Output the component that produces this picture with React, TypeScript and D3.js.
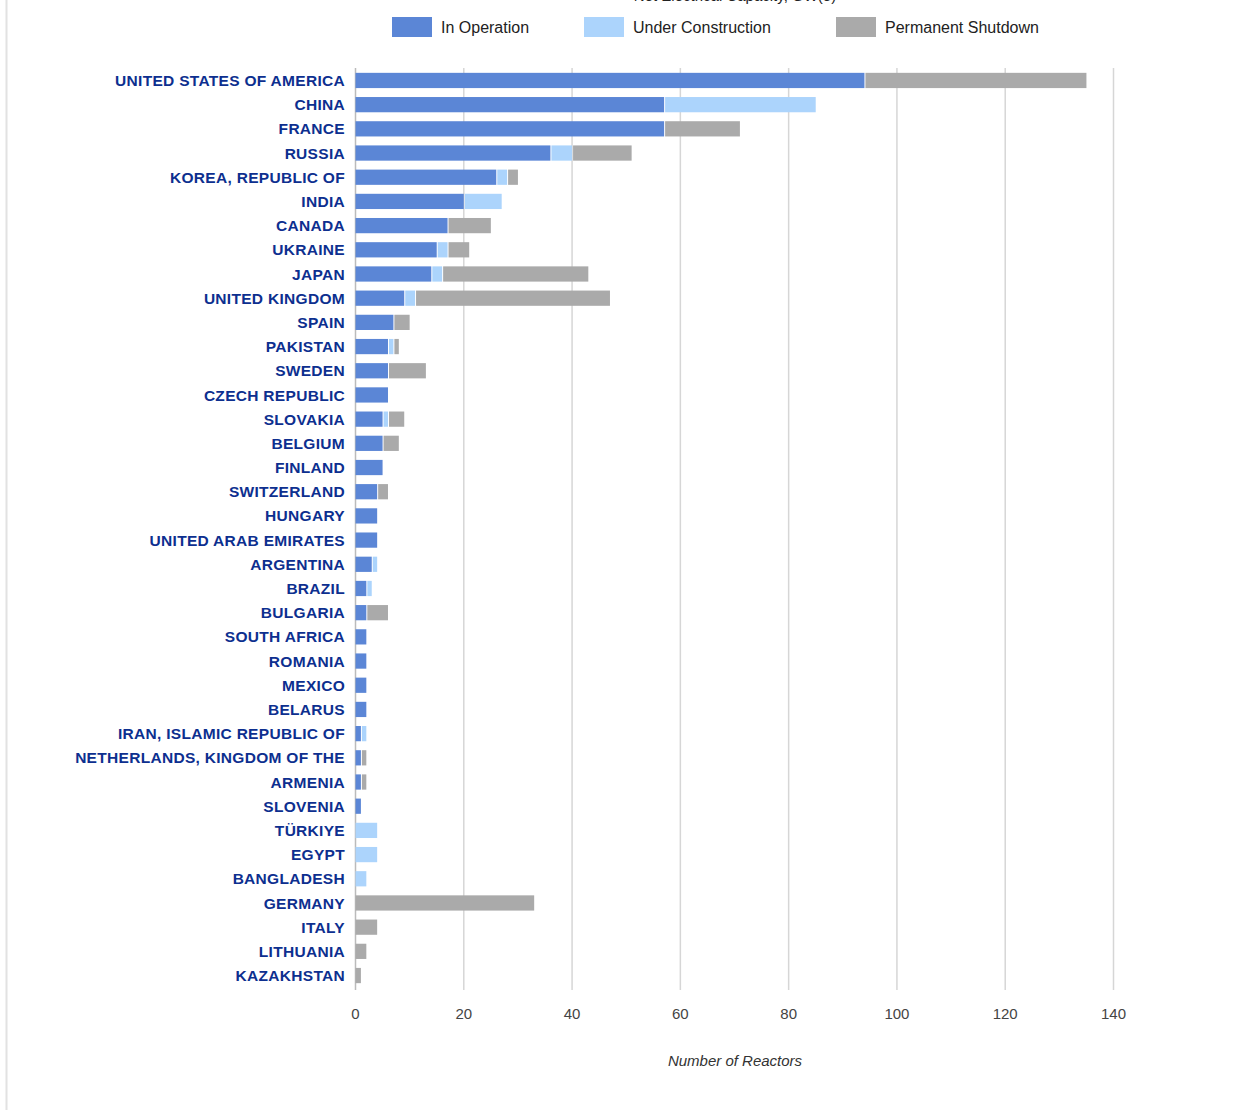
import React from "react";
import * as d3 from "d3";

const countries = [
  "UNITED STATES OF AMERICA", "CHINA", "FRANCE", "RUSSIA", "KOREA, REPUBLIC OF", "INDIA",
  "CANADA", "UKRAINE", "JAPAN", "UNITED KINGDOM", "SPAIN", "PAKISTAN", "SWEDEN",
  "CZECH REPUBLIC", "SLOVAKIA", "BELGIUM", "FINLAND", "SWITZERLAND", "HUNGARY",
  "UNITED ARAB EMIRATES", "ARGENTINA", "BRAZIL", "BULGARIA", "SOUTH AFRICA", "ROMANIA",
  "MEXICO", "BELARUS", "IRAN, ISLAMIC REPUBLIC OF", "NETHERLANDS, KINGDOM OF THE",
  "ARMENIA", "SLOVENIA", "TÜRKIYE", "EGYPT", "BANGLADESH", "GERMANY", "ITALY",
  "LITHUANIA", "KAZAKHSTAN",
];

const inOperation = [94, 57, 57, 36, 26, 20, 17, 15, 14, 9, 7, 6, 6, 6, 5, 5, 5, 4, 4, 4, 3, 2, 2, 2, 2, 2, 2, 1, 1, 1, 1, 0, 0, 0, 0, 0, 0, 0];
const underConstruction = [0, 28, 0, 4, 2, 7, 0, 2, 2, 2, 0, 1, 0, 0, 1, 0, 0, 0, 0, 0, 1, 1, 0, 0, 0, 0, 0, 1, 0, 0, 0, 4, 4, 2, 0, 0, 0, 0];
const permanentShutdown = [41, 0, 14, 11, 2, 0, 8, 4, 27, 36, 3, 1, 7, 0, 3, 3, 0, 2, 0, 0, 0, 0, 4, 0, 0, 0, 0, 0, 1, 1, 0, 0, 0, 0, 33, 4, 2, 1];

const seriesNames = ["In Operation", "Under Construction", "Permanent Shutdown"];
const colors = ["#5b86d6", "#acd4fc", "#aaaaaa"];
const xTicks = [0, 20, 40, 60, 80, 100, 120, 140];

const W = 1248;
const H = 1110;
const left = 355.5;
const right = 1113.5;
const top = 68;
const bottom = 990;

const App = () => {
  const x = d3.scaleLinear().domain([0, 140]).range([left, right]);
  const y = d3.scaleBand().domain(countries).range([top, 988]).paddingInner(0.37).paddingOuter(0.2);

  const rows = countries.map((c, i) => ({
    country: c,
    "In Operation": inOperation[i],
    "Under Construction": underConstruction[i],
    "Permanent Shutdown": permanentShutdown[i],
  }));
  const stacked = d3.stack<any>().keys(seriesNames)(rows);

  const legendX = [392, 584, 836];

  return (
    <div style={{ position: "absolute", left: 0, top: 0 }}>
      <svg width={W} height={H} style={{ display: "block", fontFamily: "Arial, 'Liberation Sans', sans-serif" }}>
        <rect width={W} height={H} fill="#fff" />
        <line x1={6.5} x2={6.5} y1={0} y2={H} stroke="#e2e2e2" strokeWidth={2} />
        {/* chart title, cut off at the top edge like in the screenshot */}
        <text x={735} y={1} textAnchor="middle" fontSize={15} fill="#222">Net Electrical Capacity, GW(e)</text>

        {seriesNames.map((s, i) => (
          <g key={s}>
            <rect x={legendX[i]} y={17} width={40} height={20} fill={colors[i]} />
            <text x={legendX[i] + 49} y={33} fontSize={16} fill="#222">{s}</text>
          </g>
        ))}

        {xTicks.map((t) => (
          <g key={t}>
            <line x1={x(t)} x2={x(t)} y1={top} y2={bottom} stroke={t === 0 ? "#bbbbbb" : "#d6d6d6"} strokeWidth={1.5} />
            <text x={x(t)} y={1019} textAnchor="middle" fontSize={15} fill="#444">{t}</text>
          </g>
        ))}

        {stacked.map((layer, si) => (
          <g key={seriesNames[si]} fill={colors[si]}>
            {layer.map((d, i) => {
              const w = x(d[1]) - x(d[0]);
              if (w <= 0) return null;
              return (
                <rect
                  key={i}
                  x={x(d[0]) + (d[0] > 0 ? 1 : 0)}
                  y={y(countries[i])}
                  width={Math.max(0, w - (d[0] > 0 ? 1 : 0))}
                  height={y.bandwidth()}
                />
              );
            })}
          </g>
        ))}

        {countries.map((c) => (
          <text
            key={c}
            x={345}
            y={(y(c) ?? 0) + y.bandwidth() / 2}
            dy="0.36em"
            textAnchor="end"
            fontSize={15.5}
            fontWeight="bold"
            fill="#0d2f8f"
            letterSpacing={0.3}
          >
            {c}
          </text>
        ))}

        <text x={735} y={1066} textAnchor="middle" fontSize={15} fontStyle="italic" fill="#333">Number of Reactors</text>
      </svg>
    </div>
  );
};

export default App;
